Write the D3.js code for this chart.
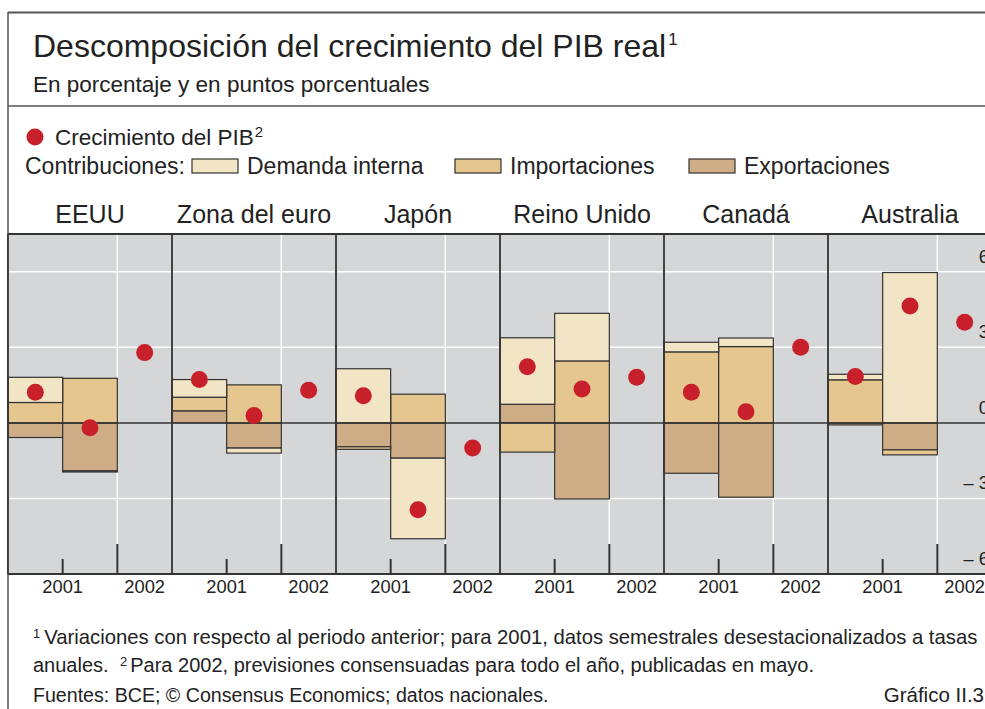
<!DOCTYPE html>
<html>
<head>
<meta charset="utf-8">
<script src="https://cdn.jsdelivr.net/npm/d3@7"></script>
<style>
  html, body { margin: 0; padding: 0; background: #fff; overflow: hidden; }
  svg { display: block; font-family: "Liberation Sans", Arial, sans-serif; fill: #222; }
</style>
</head>
<body>
<svg id="chart" width="985" height="709"></svg>
<script>
// Countries (panels) and the three slots inside each panel
const countries = ['EEUU', 'Zona del euro', 'Japón', 'Reino Unido', 'Canadá', 'Australia'];
const periods = ['2001 S1', '2001 S2', '2002'];

// Contributions, 2001 first and second half for each country in turn
const demandaInterna = [1.00, -0.05, 0.70, -0.20, 2.15, -3.20, 2.64, 1.89, 0.38, 0.34, 0.22, 5.97];
const importaciones  = [0.81, 1.77, 0.54, 1.51, -0.10, 1.14, -1.16, 2.46, 2.82, 3.03, 1.71, -0.20];
const exportaciones  = [-0.58, -1.90, 0.48, -1.00, -0.95, -1.40, 0.74, -3.02, -2.00, -2.95, -0.08, -1.07];

// GDP growth: 2001 S1, 2001 S2, 2002 for each country in turn
const crecimientoPIB = [1.22, -0.19, 2.79, 1.72, 0.29, 1.30, 1.08, -3.45, -1.00,
                        2.23, 1.35, 1.81, 1.22, 0.44, 3.00, 1.84, 4.64, 4.00];

const yTicks = [-6, -3, 0, 3, 6];
const gridTicks = [-3, 3, 6];

// Colours
const colors = { dem: '#F2E5C5', imp: '#E5C68E', exp: '#CEAD86' };
const dotColor = '#C8202B';
const bgColor = '#D5D6D8';
const lineColor = '#333';

const svg = d3.select('#chart');

// Plot area
const plot = { left: 8, right: 992, top: 234, bottom: 574 };

const x = d3.scaleBand().domain(countries).range([plot.left, plot.right]);
const xi = d3.scaleBand().domain(periods).range([0, x.bandwidth()]);
const y = d3.scaleLinear().domain([-6, 7.5]).range([plot.bottom, plot.top]);

// Rows for the stacked bars
const rows = [];
countries.forEach((c, i) => {
  [0, 1].forEach(j => {
    rows.push({
      country: c,
      period: periods[j],
      exp: exportaciones[i * 2 + j],
      imp: importaciones[i * 2 + j],
      dem: demandaInterna[i * 2 + j]
    });
  });
});
const series = d3.stack()
  .keys(['exp', 'imp', 'dem'])
  .offset(d3.stackOffsetDiverging)(rows);

const dots = [];
countries.forEach((c, i) => {
  periods.forEach((p, j) => dots.push({ country: c, period: p, value: crecimientoPIB[i * 3 + j] }));
});

// ---- Frame and header ----
svg.append('line').attr('x1', 8).attr('x2', 985).attr('y1', 12.5).attr('y2', 12.5)
  .attr('stroke', '#555').attr('stroke-width', 2);
svg.append('line').attr('x1', 8).attr('x2', 8).attr('y1', 12).attr('y2', 709)
  .attr('stroke', '#555').attr('stroke-width', 1.5);
svg.append('line').attr('x1', 8).attr('x2', 985).attr('y1', 106).attr('y2', 106)
  .attr('stroke', '#555').attr('stroke-width', 1.5);

const title = svg.append('text').attr('x', 33).attr('y', 57)
  .style('font-size', '32px').text('Descomposición del crecimiento del PIB real');
title.append('tspan').attr('dx', 2).attr('dy', -12).style('font-size', '17px').text('1');

svg.append('text').attr('x', 33).attr('y', 92)
  .style('font-size', '22.5px').text('En porcentaje y en puntos porcentuales');

// ---- Legend ----
svg.append('circle').attr('cx', 35).attr('cy', 137).attr('r', 8.5).attr('fill', dotColor);
const lg1 = svg.append('text').attr('x', 55).attr('y', 145)
  .style('font-size', '22.5px').text('Crecimiento del PIB');
lg1.append('tspan').attr('dx', 1).attr('dy', -8).style('font-size', '15px').text('2');

svg.append('text').attr('x', 25).attr('y', 174)
  .style('font-size', '23px').text('Contribuciones:');

const legendItems = [
  { key: 'dem', label: 'Demanda interna', x: 192 },
  { key: 'imp', label: 'Importaciones', x: 455 },
  { key: 'exp', label: 'Exportaciones', x: 689 }
];
legendItems.forEach(d => {
  svg.append('rect').attr('x', d.x).attr('y', 159).attr('width', 46).attr('height', 14)
    .attr('fill', colors[d.key]).attr('stroke', lineColor).attr('stroke-width', 1.2);
  svg.append('text').attr('x', d.x + 55).attr('y', 174)
    .style('font-size', '23px').text(d.label);
});

// Panel titles
svg.selectAll('.panel-title')
  .data(countries)
  .enter()
  .append('text')
  .attr('class', 'panel-title')
  .attr('x', d => x(d) + x.bandwidth() / 2)
  .attr('y', 223)
  .attr('text-anchor', 'middle')
  .style('font-size', '25px')
  .text(d => d);

// ---- Plot ----
svg.append('rect')
  .attr('x', plot.left).attr('y', plot.top)
  .attr('width', plot.right - plot.left).attr('height', plot.bottom - plot.top)
  .attr('fill', bgColor);

// white grid
svg.selectAll('.hgrid')
  .data(gridTicks)
  .enter()
  .append('line')
  .attr('x1', plot.left).attr('x2', plot.right)
  .attr('y1', d => y(d)).attr('y2', d => y(d))
  .attr('stroke', '#fff').attr('stroke-width', 1.5);

svg.selectAll('.vgrid')
  .data(countries)
  .enter()
  .append('line')
  .attr('x1', d => x(d) + xi('2002')).attr('x2', d => x(d) + xi('2002'))
  .attr('y1', plot.top).attr('y2', plot.bottom)
  .attr('stroke', '#fff').attr('stroke-width', 1.5);

// stacked bars
svg.append('g')
  .selectAll('g')
  .data(series)
  .enter()
  .append('g')
  .attr('fill', d => colors[d.key])
  .selectAll('rect')
  .data(d => d)
  .enter()
  .append('rect')
  .attr('x', d => x(d.data.country) + xi(d.data.period))
  .attr('y', d => y(Math.max(d[0], d[1])))
  .attr('width', xi.bandwidth())
  .attr('height', d => Math.abs(y(d[0]) - y(d[1])))
  .attr('stroke', lineColor)
  .attr('stroke-width', 1.2);

// zero line
svg.append('line')
  .attr('x1', plot.left).attr('x2', plot.right)
  .attr('y1', y(0)).attr('y2', y(0))
  .attr('stroke', lineColor).attr('stroke-width', 1.5);

// panel dividers and frame of the plot
svg.selectAll('.divider')
  .data(countries)
  .enter()
  .append('line')
  .attr('x1', d => x(d)).attr('x2', d => x(d))
  .attr('y1', plot.top).attr('y2', plot.bottom)
  .attr('stroke', lineColor).attr('stroke-width', 1.8);

svg.append('line').attr('x1', plot.left).attr('x2', plot.right)
  .attr('y1', plot.top).attr('y2', plot.top)
  .attr('stroke', lineColor).attr('stroke-width', 2);
svg.append('line').attr('x1', plot.left).attr('x2', plot.right)
  .attr('y1', plot.bottom).attr('y2', plot.bottom)
  .attr('stroke', lineColor).attr('stroke-width', 2);

// ticks: short between the two halves of 2001, long between 2001 and 2002
countries.forEach(c => {
  svg.append('line')
    .attr('x1', x(c) + xi('2001 S2')).attr('x2', x(c) + xi('2001 S2'))
    .attr('y1', plot.bottom).attr('y2', plot.bottom - 15)
    .attr('stroke', lineColor).attr('stroke-width', 2);
  svg.append('line')
    .attr('x1', x(c) + xi('2002')).attr('x2', x(c) + xi('2002'))
    .attr('y1', plot.bottom).attr('y2', plot.bottom - 30)
    .attr('stroke', lineColor).attr('stroke-width', 2);
  svg.append('text')
    .attr('x', x(c) + xi('2001 S2'))
    .attr('y', 593)
    .attr('text-anchor', 'middle')
    .style('font-size', '18.3px')
    .text('2001');
  svg.append('text')
    .attr('x', x(c) + xi('2002') + xi.bandwidth() / 2)
    .attr('y', 593)
    .attr('text-anchor', 'middle')
    .style('font-size', '18.3px')
    .text('2002');
});

// GDP growth dots
svg.selectAll('.dot')
  .data(dots)
  .enter()
  .append('circle')
  .attr('cx', d => x(d.country) + xi(d.period) + xi.bandwidth() / 2)
  .attr('cy', d => y(d.value))
  .attr('r', 8.5)
  .attr('fill', dotColor);

// y labels on the right, sitting above their grid line (cut by the page edge)
svg.selectAll('.ylab')
  .data(yTicks)
  .enter()
  .append('text')
  .attr('x', 989)
  .attr('y', d => y(d) - 9)
  .attr('text-anchor', 'end')
  .style('font-size', '18.3px')
  .text(d => d < 0 ? '– ' + Math.abs(d) : d);

// ---- Footnotes ----
const fn1 = svg.append('text').attr('x', 33).attr('y', 644).style('font-size', '20.3px');
fn1.append('tspan').attr('dy', -6).style('font-size', '13px').text('1');
fn1.append('tspan').attr('dx', 4).attr('dy', 6)
  .text('Variaciones con respecto al periodo anterior; para 2001, datos semestrales desestacionalizados a tasas');

const fn2 = svg.append('text').attr('x', 33).attr('y', 672).style('font-size', '20px');
fn2.append('tspan').text('anuales.');
fn2.append('tspan').attr('x', 120).attr('dy', -6).style('font-size', '13px').text('2');
fn2.append('tspan').attr('dx', 3).attr('dy', 6).text('Para 2002, previsiones consensuadas para todo el año, publicadas en mayo.');

svg.append('text').attr('x', 33).attr('y', 702).style('font-size', '19.6px')
  .text('Fuentes: BCE; © Consensus Economics; datos nacionales.');
svg.append('text').attr('x', 984).attr('y', 702).attr('text-anchor', 'end').style('font-size', '20.5px')
  .text('Gráfico II.3');
</script>
</body>
</html>
